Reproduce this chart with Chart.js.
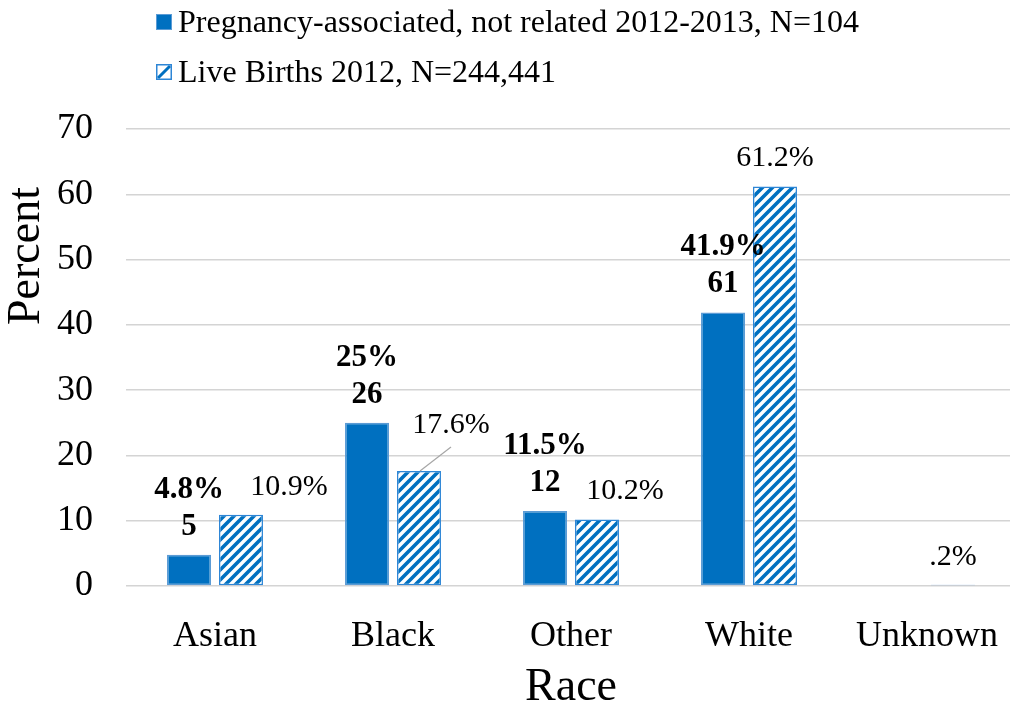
<!DOCTYPE html>
<html>
<head>
<meta charset="utf-8">
<title>Race distribution</title>
<script src="https://cdn.jsdelivr.net/npm/chart.js@4.4.1/dist/chart.umd.min.js"></script>
<style>
  html, body { margin: 0; padding: 0; background: #fff; overflow: hidden; }
  #wrap { width: 1010px; height: 706px; overflow: hidden; }
</style>
</head>
<body>
<div id="wrap"><canvas id="raceBar" width="1020" height="706"></canvas></div>
<script>
// data
const races = ['Asian', 'Black', 'Other', 'White', 'Unknown'];
const pregnancyPct = [4.8, 25, 11.5, 41.9, null];
const pregnancyCount = [5, 26, 12, 61, null];
const birthsPct = [10.9, 17.6, 10.2, 61.2, 0.2];
const pregnancyLabel = 'Pregnancy-associated, not related 2012-2013, N=104';
const birthsLabel = 'Live Births 2012, N=244,441';
const yMax = 70;
const yStep = 10;

// nudges for the live-birth value labels so they don't sit on the bars
const birthLabelShift = [[48, 0], [32, -18], [28, 0], [0, 0], [0, 0]];

const FONT = "'Liberation Serif', 'Times New Roman', serif";
const BLUE = '#0070C0';

function fmtPct(v) {
    return String(v).replace(/^0\./, '.') + '%';
}

// diagonal hatch fill
function makeHatch() {
    const c = document.createElement('canvas');
    c.width = 10;
    c.height = 10;
    const g = c.getContext('2d');
    g.fillStyle = '#fff';
    g.fillRect(0, 0, 10, 10);
    g.strokeStyle = BLUE;
    g.lineWidth = 3.6;
    g.beginPath();
    g.moveTo(-5, 5); g.lineTo(5, -5);
    g.moveTo(0, 10); g.lineTo(10, 0);
    g.moveTo(5, 15); g.lineTo(15, 5);
    g.stroke();
    return g.createPattern(c, 'repeat');
}

const canvas = document.getElementById('raceBar');
const ctx = canvas.getContext('2d');
const hatch = makeHatch();

const barLabels = {
    id: 'barLabels',
    afterDatasetsDraw(chart) {
        const c = chart.ctx;
        c.save();
        c.textAlign = 'center';
        c.textBaseline = 'alphabetic';
        c.fillStyle = '#000';
        chart.getDatasetMeta(0).data.forEach((bar, i) => {
            if (pregnancyPct[i] == null) return;
            c.font = 'bold 31px ' + FONT;
            c.fillText(String(pregnancyCount[i]), bar.x, bar.y - 20);
            c.fillText(fmtPct(pregnancyPct[i]), bar.x, bar.y - 57);
        });
        chart.getDatasetMeta(1).data.forEach((bar, i) => {
            const [dx, dy] = birthLabelShift[i];
            const x = bar.x + dx;
            const y = bar.y - 20 + dy;
            c.font = '30px ' + FONT;
            c.fillStyle = '#000';
            c.fillText(fmtPct(birthsPct[i]), x, y);
            if (dy !== 0) {
                // leader line back to the bar
                c.strokeStyle = '#A6A6A6';
                c.lineWidth = 1.2;
                c.beginPath();
                c.moveTo(x, y + 14);
                c.lineTo(bar.x + 1, bar.y);
                c.stroke();
            }
        });
        c.restore();
    }
};

// stacked legend + rotated y title
const extras = {
    id: 'extras',
    afterDraw(chart) {
        const c = chart.ctx;
        c.save();
        // solid swatch
        c.fillStyle = BLUE;
        c.fillRect(156, 14, 16, 16);
        c.strokeStyle = '#5B9BD5';
        c.lineWidth = 1;
        c.strokeRect(156.5, 14.5, 15, 15);
        // hatched swatch
        c.fillStyle = '#fff';
        c.fillRect(156, 64, 16, 16);
        c.strokeStyle = BLUE;
        c.lineWidth = 3;
        c.beginPath();
        c.moveTo(158, 78); c.lineTo(170, 66);
        c.stroke();
        c.strokeStyle = '#2E86D6';
        c.lineWidth = 1.5;
        c.strokeRect(156.75, 64.75, 14.5, 14.5);

        c.fillStyle = '#000';
        c.font = '32px ' + FONT;
        c.textAlign = 'left';
        c.textBaseline = 'alphabetic';
        c.fillText(pregnancyLabel, 178, 32);
        c.fillText(birthsLabel, 178, 82);

        c.translate(27, 256);
        c.rotate(-Math.PI / 2);
        c.textAlign = 'center';
        c.textBaseline = 'middle';
        c.font = '46px ' + FONT;
        c.fillText('Percent', 0, 0);
        c.restore();
    }
};

new Chart(ctx, {
    type: 'bar',
    data: {
        labels: races,
        datasets: [{
            label: pregnancyLabel,
            data: pregnancyPct,
            backgroundColor: BLUE,
            borderColor: '#5B9BD5',
            borderWidth: 1.5,
            borderSkipped: false,
            categoryPercentage: 0.584,
            barPercentage: 0.846
        }, {
            label: birthsLabel,
            data: birthsPct,
            backgroundColor: hatch,
            borderColor: '#2E86D6',
            borderWidth: 1.5,
            borderSkipped: false,
            categoryPercentage: 0.584,
            barPercentage: 0.846
        }]
    },
    options: {
        responsive: false,
        animation: false,
        layout: { padding: { top: 129, right: 4, left: 0, bottom: 0 } },
        plugins: {
            legend: { display: false },
            tooltip: { enabled: false }
        },
        scales: {
            x: {
                grid: { display: false },
                border: { display: false },
                ticks: { font: { family: FONT, size: 36 }, color: '#000', padding: 21 },
                title: {
                    display: true,
                    text: 'Race',
                    color: '#000',
                    font: { family: FONT, size: 46, lineHeight: 0.8 },
                    padding: { top: 0, bottom: 0 }
                },
                afterFit(scale) { scale.height = 120; }
            },
            y: {
                min: 0,
                max: yMax,
                ticks: { stepSize: yStep, font: { family: FONT, size: 36 }, color: '#000', padding: 33 },
                grid: { color: '#D4D4D4', lineWidth: 1.5, drawTicks: false },
                border: { display: false },
                afterFit(scale) { scale.width = 126; }
            }
        }
    },
    plugins: [barLabels, extras]
});
</script>
</body>
</html>
